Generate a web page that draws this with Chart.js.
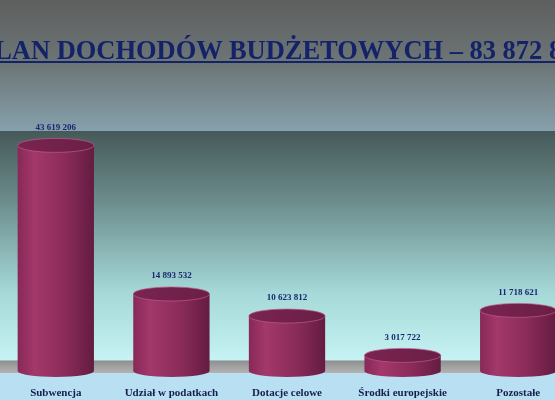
<!DOCTYPE html>
<html>
<head>
<meta charset="utf-8">
<script src="https://cdn.jsdelivr.net/npm/chart.js@4"></script>
<style>
  html, body { margin: 0; padding: 0; width: 555px; height: 400px; overflow: hidden; background: #b9dff2; }
  #wrap { position: absolute; left: -2px; top: 0; width: 578px; height: 400px; }
  #title {
    position: absolute; left: -22px; top: 37px; white-space: nowrap;
    font: bold 27px/27px "Liberation Serif", "DejaVu Serif", serif; color: #14226a;
    text-decoration: underline; text-decoration-thickness: 2px; text-underline-offset: 2px;
    transform: scaleX(0.98); transform-origin: left top;
  }
</style>
</head>
<body>
<div id="wrap"><canvas id="budget" width="578" height="400"></canvas></div>
<div id="title">PLAN DOCHODÓW BUDŻETOWYCH – 83 872 893 zł</div>
<script>
var categories = ["Subwencja", "Udział w podatkach", "Dotacje celowe", "Środki europejskie", "Pozostałe"];
var incomes = [43619206, 14893532, 10623812, 3017722, 11718621];

function fmt(v) {
  return String(v).replace(/\B(?=(\d{3})+(?!\d))/g, " ");
}

// backgrounds of the slide: top band, wall, floor, label strip
var backdrop = {
  id: 'backdrop',
  beforeDraw: function (chart) {
    var ctx = chart.ctx, w = chart.width, a = chart.chartArea;
    var g = ctx.createLinearGradient(0, 0, 0, a.top);
    g.addColorStop(0, '#5e5f5f');
    g.addColorStop(0.5, '#6d7677');
    g.addColorStop(1, '#86a0ad');
    ctx.fillStyle = g;
    ctx.fillRect(0, 0, w, a.top);

    var floorTop = a.bottom - 10.5;
    g = ctx.createLinearGradient(0, a.top, 0, floorTop);
    g.addColorStop(0, '#465959');
    g.addColorStop(0.3, '#6b8b8b');
    g.addColorStop(0.7, '#a5d8d8');
    g.addColorStop(1, '#c6f3f3');
    ctx.fillStyle = g;
    ctx.fillRect(0, a.top, w, floorTop - a.top);

    var floorBottom = a.bottom + 2;
    g = ctx.createLinearGradient(0, floorTop, 0, floorBottom);
    g.addColorStop(0, '#8e8e8e');
    g.addColorStop(1, '#b3b3b3');
    ctx.fillStyle = g;
    ctx.fillRect(0, floorTop, w, floorBottom - floorTop);

    ctx.fillStyle = '#b9dff2';
    ctx.fillRect(0, floorBottom, w, chart.height - floorBottom);
  }
};

// cylinders drawn on top of the (transparent) bar elements
var cylinders = {
  id: 'cylinders',
  afterDatasetsDraw: function (chart) {
    var ctx = chart.ctx;
    var meta = chart.getDatasetMeta(0);
    meta.data.forEach(function (bar, i) {
      var w = bar.width, x0 = bar.x - w / 2, rx = w / 2, ry = 7;
      var top = bar.y, base = bar.base;
      ctx.save();
      var g = ctx.createLinearGradient(x0, 0, x0 + w, 0);
      g.addColorStop(0, '#872958');
      g.addColorStop(0.22, '#a3386b');
      g.addColorStop(0.6, '#8c2c5b');
      g.addColorStop(1, '#641c41');
      ctx.fillStyle = g;
      ctx.beginPath();
      ctx.moveTo(x0, top);
      ctx.lineTo(x0, base);
      ctx.ellipse(bar.x, base, rx, ry - 1, 0, Math.PI, 0, true);
      ctx.lineTo(x0 + w, top);
      ctx.closePath();
      ctx.fill();

      var t = ctx.createLinearGradient(x0, 0, x0 + w, 0);
      t.addColorStop(0, '#7a2451');
      t.addColorStop(1, '#6a1f46');
      ctx.fillStyle = t;
      ctx.strokeStyle = 'rgba(190,90,140,0.7)';
      ctx.lineWidth = 1;
      ctx.beginPath();
      ctx.ellipse(bar.x, top, rx, ry, 0, 0, Math.PI * 2);
      ctx.fill();
      ctx.stroke();

      ctx.fillStyle = '#1a2870';
      ctx.font = 'bold 9px "Liberation Serif", serif';
      ctx.textAlign = 'center';
      ctx.textBaseline = 'middle';
      ctx.fillText(fmt(incomes[i]), bar.x, top - 18);
      ctx.restore();
    });
  }
};

var ctx = document.getElementById('budget').getContext('2d');
var budgetChart = new Chart(ctx, {
  type: 'bar',
  data: {
    labels: categories,
    datasets: [{
      data: incomes,
      backgroundColor: 'rgba(0,0,0,0)',
      borderWidth: 0,
      categoryPercentage: 1,
      barPercentage: 0.66
    }]
  },
  options: {
    responsive: false,
    animation: false,
    layout: { padding: { top: 131, left: 0, right: 0, bottom: 0 } },
    plugins: { legend: { display: false }, tooltip: { enabled: false }, title: { display: false } },
    scales: {
      x: {
        grid: { display: false, drawTicks: false },
        border: { display: false },
        ticks: {
          padding: 16,
          color: '#161f4c',
          font: { family: '"Liberation Serif", serif', size: 11, weight: 'bold' },
          maxRotation: 0, autoSkip: false
        },
        afterFit: function (scale) { scale.height = 29; }
      },
      y: {
        display: false,
        min: 0,
        max: 46400000
      }
    }
  },
  plugins: [backdrop, cylinders]
});
</script>
</body>
</html>
